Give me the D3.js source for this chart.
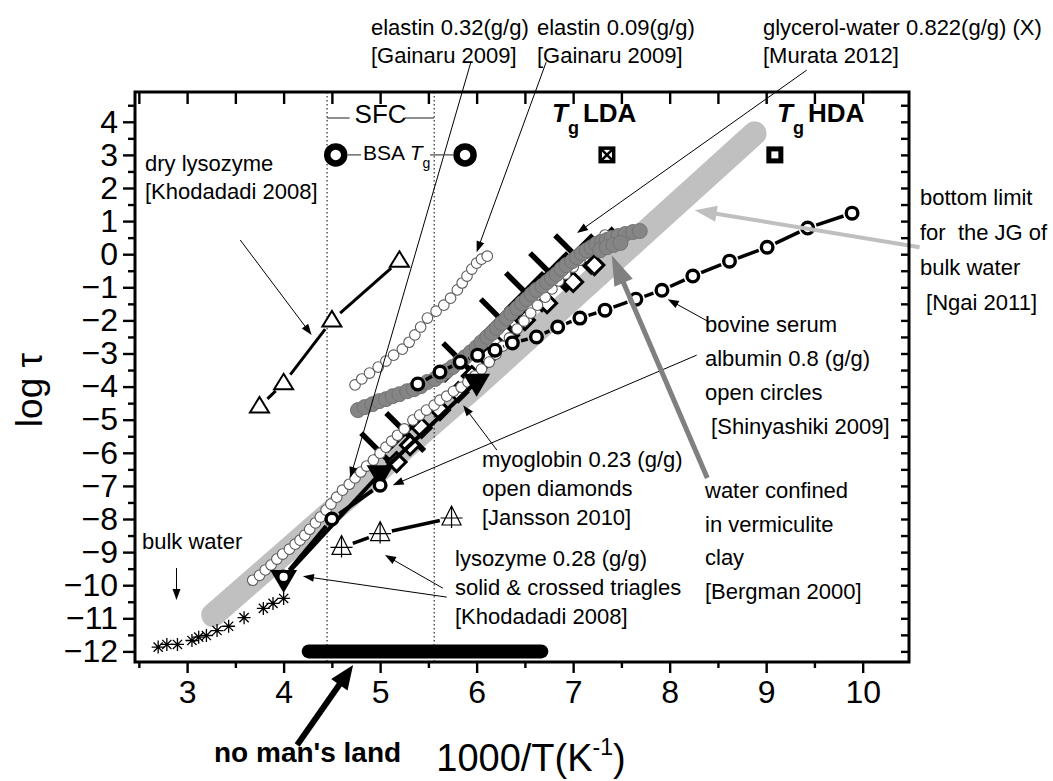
<!DOCTYPE html>
<html>
<head>
<meta charset="utf-8">
<script src="https://cdn.jsdelivr.net/npm/d3@7"></script>
<style>
  body { margin: 0; background: #fff; }
  svg { display: block; }
  text { font-family: "Liberation Sans", Arial, sans-serif; white-space: pre; }
</style>
</head>
<body>
<svg id="chart" width="1053" height="781"></svg>
<script>
// ---------------- data (x = 1000/T in K^-1, y = log tau) ----------------
const xTicks = [3, 4, 5, 6, 7, 8, 9, 10];
const yTicks = [4, 3, 2, 1, 0, -1, -2, -3, -4, -5, -6, -7, -8, -9, -10, -11, -12];

// bottom limit for the JG relaxation of bulk water (Ngai 2011)
const ngaiX = [3.27, 6.0, 8.88];
const ngaiY = [-10.9, -3.95, 3.65];

// bulk water (asterisks)
const bulkWaterX = [2.70, 2.79, 2.90, 3.05, 3.12, 3.20, 3.31, 3.43, 3.59, 3.79, 3.89, 4.00];
const bulkWaterY = [-11.87, -11.79, -11.79, -11.67, -11.57, -11.52, -11.37, -11.24, -10.98, -10.70, -10.55, -10.40];

// dry lysozyme (open triangles)
const dryLysX = [3.75, 4.0, 4.5, 5.2];
const dryLysY = [-4.6, -3.9, -2.0, -0.2];

// lysozyme 0.28 g/g, solid triangles
const lysSolidX = [4.0, 5.0, 6.0];
const lysSolidY = [-9.78, -6.62, -3.85];

// lysozyme 0.28 g/g, crossed triangles
const lysCrossX = [4.60, 5.0, 5.74];
const lysCrossY = [-8.86, -8.44, -7.97];

// bovine serum albumin 0.8 g/g (open circles), fast branch and main branch
const bsaLowX = [4.0, 4.5, 5.0];
const bsaLowY = [-9.75, -8.0, -6.98];
const bsaHighX = [5.39, 5.62, 5.83, 6.01, 6.19, 6.37, 6.62, 6.84, 7.07, 7.33, 7.65, 7.92, 8.24, 8.62, 9.01, 9.43, 9.89];
const bsaHighY = [-3.92, -3.56, -3.26, -3.05, -2.90, -2.68, -2.50, -2.20, -1.93, -1.69, -1.36, -1.09, -0.66, -0.21, 0.21, 0.79, 1.24];

// myoglobin 0.23 g/g (open diamonds)
const myoX = [5.17, 5.31, 5.43, 5.62, 5.81, 5.95, 6.11, 6.31, 6.50, 6.73, 7.00, 7.22, 7.40];
const myoY = [-6.28, -5.77, -5.25, -4.71, -4.17, -3.68, -3.11, -2.47, -1.99, -1.48, -0.84, -0.33, 0.49];

// glycerol-water 0.822 g/g (X)
const glyXmarkX = [5.00, 5.26, 5.85, 6.24, 6.50, 6.75, 7.01];
const glyXmarkY = [-5.98, -5.37, -3.26, -1.93, -1.14, -0.54, 0.00];

// glycerol-water / confined water, dense gray points
const glyX = [4.77, 4.84, 4.92, 4.99, 5.06, 5.13, 5.20, 5.28, 5.35, 5.42, 5.49, 5.57, 5.63, 5.69, 5.75, 5.82, 5.88, 5.94, 6.00, 6.05,
  6.11, 6.16, 6.21, 6.26, 6.31, 6.36, 6.42, 6.47, 6.52, 6.57, 6.62, 6.68, 6.73, 6.78, 6.83, 6.88, 6.93, 6.99, 7.04, 7.09,
  7.14, 7.19, 7.24, 7.30, 7.35, 7.40, 7.47, 7.54, 7.62, 7.69, 7.28, 7.35, 7.42, 7.49];
const glyY = [-4.71, -4.62, -4.53, -4.44, -4.38, -4.29, -4.23, -4.14, -4.08, -3.99, -3.86, -3.77, -3.65, -3.53, -3.41, -3.26, -3.11, -2.96, -2.81, -2.66,
  -2.50, -2.38, -2.23, -2.08, -1.93, -1.78, -1.63, -1.48, -1.36, -1.21, -1.08, -0.96, -0.84, -0.72, -0.60, -0.45, -0.33, -0.21, -0.09, 0.03,
  0.12, 0.21, 0.31, 0.37, 0.43, 0.49, 0.55, 0.61, 0.67, 0.70, 0.12, 0.21, 0.28, 0.34];

// elastin 0.32 g/g
const el32X = [3.68, 3.75, 3.81, 3.87, 3.93, 3.99, 4.06, 4.12, 4.17, 4.22, 4.27, 4.33, 4.38, 4.44, 4.49, 4.55, 4.61, 4.68, 4.74, 4.80,
  4.86, 4.93, 5.00, 5.06, 5.12, 5.18, 5.25, 5.34, 5.41, 5.48, 5.56, 5.62, 5.69, 5.76, 5.84, 5.91, 5.98, 6.05, 6.13, 6.20,
  6.27, 6.34, 6.42, 6.49, 6.56, 6.63, 6.71, 6.78, 6.85, 6.92, 7.00, 7.07, 7.14, 7.21, 7.28, 7.33];
const el32Y = [-9.85, -9.70, -9.54, -9.39, -9.21, -9.06, -8.91, -8.76, -8.64, -8.49, -8.31, -8.12, -7.94, -7.73, -7.55, -7.34, -7.13, -6.95, -6.76, -6.58,
  -6.40, -6.22, -6.01, -5.83, -5.65, -5.47, -5.28, -5.01, -4.86, -4.71, -4.56, -4.41, -4.29, -4.14, -4.02, -3.86, -3.68, -3.47, -3.26, -3.02,
  -2.78, -2.53, -2.26, -2.02, -1.78, -1.54, -1.30, -1.05, -0.81, -0.60, -0.39, -0.18, 0.03, 0.24, 0.43, 0.58];

// elastin 0.09 g/g
const el09X = [4.74, 4.81, 4.89, 4.98, 5.06, 5.14, 5.23, 5.30, 5.36, 5.42, 5.49, 5.58, 5.66, 5.73, 5.80, 5.85, 5.90, 5.95, 6.00, 6.05, 6.11];
const el09Y = [-3.95, -3.77, -3.59, -3.41, -3.23, -3.05, -2.87, -2.66, -2.44, -2.20, -1.93, -1.72, -1.54, -1.33, -1.08, -0.87, -0.66, -0.45, -0.27, -0.15, -0.06];

// glass transition markers
const bsaTgX = [4.54, 5.88], bsaTgY = [3, 3];
const tgLdaX = [7.35], tgLdaY = [3];
const tgHdaX = [9.09], tgHdaY = [3];

// SFC bounds and the "no man's land" interval
const sfcBounds = [4.45, 5.56];
const noMansLand = [4.26, 6.67];
const noMansLandLevel = -12;

// ---------------- scales ----------------
const svg = d3.select("#chart");
const x = d3.scaleLinear().domain([2.46, 10.48]).range([135, 909]);
const y = d3.scaleLinear().domain([-12.32, 4.9]).range([662, 92]);
const zip = (xs, ys) => xs.map((v, i) => [v, ys[i]]);
const px = d => [x(d[0]), y(d[1])];

const plot = svg.append("g");

// segments between consecutive points, trimmed around the markers
function gapSegs(pts, gap) {
  const segs = [];
  for (let i = 0; i < pts.length - 1; i++) {
    const [x1, y1] = pts[i], [x2, y2] = pts[i + 1];
    const dx = x2 - x1, dy = y2 - y1, L = Math.hypot(dx, dy);
    if (L <= 2 * gap) continue;
    const ux = dx / L, uy = dy / L;
    segs.push([x1 + ux * gap, y1 + uy * gap, x2 - ux * gap, y2 - uy * gap]);
  }
  return segs;
}
function drawSegs(g, pts, gap, width) {
  g.selectAll(null).data(gapSegs(pts.map(px), gap)).join("line")
    .attr("x1", d => d[0]).attr("y1", d => d[1]).attr("x2", d => d[2]).attr("y2", d => d[3])
    .attr("stroke", "#000").attr("stroke-width", width);
}
function arrow(g, p0, p1, o = {}) {
  const color = o.color || "#000", width = o.width || 1, head = o.head || 11, half = o.half || 4;
  const [x1, y1] = px(p0), [x2, y2] = px(p1);
  const dx = x2 - x1, dy = y2 - y1, L = Math.hypot(dx, dy), ux = dx / L, uy = dy / L;
  const bx = x2 - ux * head, by = y2 - uy * head;
  g.append("line").attr("x1", x1).attr("y1", y1).attr("x2", bx + ux * 2).attr("y2", by + uy * 2)
    .attr("stroke", color).attr("stroke-width", width);
  g.append("path")
    .attr("d", `M${x2},${y2}L${bx - uy * half},${by + ux * half}L${bx + uy * half},${by - ux * half}Z`)
    .attr("fill", color);
}

// Ngai bottom-limit band
plot.append("path").datum(zip(ngaiX, ngaiY))
  .attr("d", d3.line().x(d => x(d[0])).y(d => y(d[1])))
  .attr("fill", "none").attr("stroke", "#c0c0c0").attr("stroke-width", 24)
  .attr("stroke-linecap", "round").attr("stroke-linejoin", "round");

// SFC dotted bounds
plot.selectAll(".sfc").data(sfcBounds).join("line")
  .attr("x1", d => x(d)).attr("x2", d => x(d))
  .attr("y1", y.range()[1]).attr("y2", y.range()[0])
  .attr("stroke", "#000").attr("stroke-width", 1).attr("stroke-dasharray", "1.5,2.5");

// no man's land bar
plot.append("line")
  .attr("x1", x(noMansLand[0])).attr("x2", x(noMansLand[1]))
  .attr("y1", y(noMansLandLevel)).attr("y2", y(noMansLandLevel))
  .attr("stroke", "#000").attr("stroke-width", 14).attr("stroke-linecap", "round");

// bulk water asterisks
plot.selectAll(".bulk").data(zip(bulkWaterX, bulkWaterY)).join("path")
  .attr("transform", d => `translate(${x(d[0])},${y(d[1])})`)
  .attr("d", "M-6.5,0H6.5M0,-6.5V6.5M-4.6,-4.6L4.6,4.6M-4.6,4.6L4.6,-4.6")
  .attr("stroke", "#000").attr("stroke-width", 1.3).attr("fill", "none");

// elastin 0.09
plot.selectAll(".el09").data(zip(el09X, el09Y)).join("circle")
  .attr("cx", d => x(d[0])).attr("cy", d => y(d[1])).attr("r", 5.3)
  .attr("fill", "#fff").attr("stroke", "#5a5a5a").attr("stroke-width", 1.1);

// glycerol-water X markers
plot.selectAll(".gx").data(zip(glyXmarkX, glyXmarkY)).join("path")
  .attr("transform", d => `translate(${x(d[0])},${y(d[1])})`)
  .attr("d", "M-19,-19L19,19M-19,19L19,-19")
  .attr("stroke", "#000").attr("stroke-width", 5.5);

// myoglobin diamonds
plot.selectAll(".myo").data(zip(myoX, myoY)).join("path")
  .attr("transform", d => `translate(${x(d[0])},${y(d[1])})`)
  .attr("d", "M0,-9.5L9.5,0L0,9.5L-9.5,0Z")
  .attr("fill", "#fff").attr("stroke", "#000").attr("stroke-width", 3);

// elastin 0.32
plot.selectAll(".el32").data(zip(el32X, el32Y)).join("circle")
  .attr("cx", d => x(d[0])).attr("cy", d => y(d[1])).attr("r", 5.3)
  .attr("fill", "#fff").attr("stroke", "#5a5a5a").attr("stroke-width", 1.1);

// glycerol-water dense gray points
plot.selectAll(".gly").data(zip(glyX, glyY)).join("circle")
  .attr("cx", d => x(d[0])).attr("cy", d => y(d[1])).attr("r", 7.5)
  .attr("fill", "#858585").attr("stroke", "#747474").attr("stroke-width", 1);

// lysozyme 0.28 solid triangles
drawSegs(plot, zip(lysSolidX, lysSolidY), 6, 4);
plot.selectAll(".lsol").data(zip(lysSolidX, lysSolidY)).join("path")
  .attr("transform", d => `translate(${x(d[0])},${y(d[1])})`)
  .attr("d", "M-13.5,-8L13.5,-8L0,15Z").attr("fill", "#000");

// BSA open circles
drawSegs(plot, zip(bsaLowX, bsaLowY), 9, 4);
drawSegs(plot, zip(bsaHighX, bsaHighY), 9, 3.5);
plot.selectAll(".bsa").data(zip(bsaLowX, bsaLowY).concat(zip(bsaHighX, bsaHighY))).join("circle")
  .attr("cx", d => x(d[0])).attr("cy", d => y(d[1])).attr("r", 5.8)
  .attr("fill", "#fff").attr("stroke", "#000").attr("stroke-width", 3.4);

// lysozyme 0.28 crossed triangles
drawSegs(plot, zip(lysCrossX, lysCrossY), 12, 3.5);
plot.selectAll(".lcr").data(zip(lysCrossX, lysCrossY)).join("path")
  .attr("transform", d => `translate(${x(d[0])},${y(d[1])})`)
  .attr("d", "M0,-12L9.5,7L-9.5,7Z M0,-12V10 M-11,0H11")
  .attr("fill", "#fff").attr("stroke", "#000").attr("stroke-width", 1.2);

// dry lysozyme open triangles
drawSegs(plot, zip(dryLysX, dryLysY), 11, 3);
plot.selectAll(".dry").data(zip(dryLysX, dryLysY)).join("path")
  .attr("transform", d => `translate(${x(d[0])},${y(d[1])})`)
  .attr("d", "M0,-9.5L9.5,6L-9.5,6Z")
  .attr("fill", "#fff").attr("stroke", "#000").attr("stroke-width", 2);

// glass transition markers
plot.selectAll(".bsatg").data(zip(bsaTgX, bsaTgY)).join("circle")
  .attr("cx", d => x(d[0])).attr("cy", d => y(d[1])).attr("r", 8.5)
  .attr("fill", "#fff").attr("stroke", "#000").attr("stroke-width", 6.5);
zip(tgLdaX, tgLdaY).forEach(d => {
  const g = plot.append("g").attr("transform", `translate(${x(d[0])},${y(d[1])})`);
  g.append("rect").attr("x", -8.5).attr("y", -8.5).attr("width", 17).attr("height", 17).attr("fill", "#000");
  g.append("rect").attr("x", -5).attr("y", -5).attr("width", 10).attr("height", 10).attr("fill", "#fff");
  g.append("path").attr("d", "M-5,-5L5,5M-5,5L5,-5").attr("stroke", "#000").attr("stroke-width", 2.6);
});
zip(tgHdaX, tgHdaY).forEach(d => {
  const g = plot.append("g").attr("transform", `translate(${x(d[0])},${y(d[1])})`);
  g.append("rect").attr("x", -8.5).attr("y", -8.5).attr("width", 17).attr("height", 17).attr("fill", "#000");
  g.append("rect").attr("x", -3.5).attr("y", -3.5).attr("width", 7).attr("height", 7).attr("fill", "#fff");
});

// ---------------- annotations ----------------
const ann = svg.append("g");
function label(xp, yp, s, size = 22, extra = {}) {
  const t = ann.append("text").attr("x", xp).attr("y", yp).attr("font-size", size).attr("fill", "#000").text(s);
  Object.entries(extra).forEach(([k, v]) => t.attr(k, v));
  return t;
}

// thin pointer arrows
const pointers = [
  [[3.55, 0.43], [4.29, -2.44]],   // dry lysozyme
  [[5.94, 5.80], [4.69, -6.76]],   // elastin 0.32
  [[6.72, 5.80], [6.00, 0.06]],    // elastin 0.09
  [[9.42, 5.56], [7.04, 0.64]],    // glycerol-water
  [[8.41, -2.05], [7.98, -1.36]],  // BSA
  [[8.28, -3.05], [5.13, -6.98]],  // BSA fast branch
  [[6.21, -5.92], [5.86, -4.56]],  // myoglobin
  [[5.65, -10.09], [5.05, -9.09]], // crossed triangles
  [[5.69, -10.36], [4.20, -9.73]], // solid triangles
  [[2.89, -9.48], [2.89, -10.45]]  // bulk water
];
pointers.forEach(p => arrow(ann, p[0], p[1]));

arrow(ann, [10.59, 0.21], [8.26, 1.33], { color: "#bfbfbf", width: 4, head: 22, half: 8 });
arrow(ann, [8.39, -6.76], [7.40, -0.03], { color: "#808080", width: 5, head: 30, half: 10 });
arrow(ann, [4.14, -14.83], [4.72, -12.41], { color: "#000", width: 6, head: 24, half: 10 });

// SFC label with its bracket lines
const sfcMid = (x(sfcBounds[0]) + x(sfcBounds[1])) / 2;
label(sfcMid, 123, "SFC", 26, { "text-anchor": "middle" });
ann.append("line").attr("x1", x(sfcBounds[0])).attr("x2", sfcMid - 31).attr("y1", 118).attr("y2", 118)
  .attr("stroke", "#444").attr("stroke-width", 1.2);
ann.append("line").attr("x1", sfcMid + 24).attr("x2", x(sfcBounds[1])).attr("y1", 118).attr("y2", 118)
  .attr("stroke", "#444").attr("stroke-width", 1.2);

// BSA Tg label between its two markers
const bsaTgRow = y(bsaTgY[0]);
ann.append("line").attr("x1", x(bsaTgX[0]) + 12).attr("x2", 361).attr("y1", bsaTgRow).attr("y2", bsaTgRow)
  .attr("stroke", "#444").attr("stroke-width", 1.2);
ann.append("line").attr("x1", 430).attr("x2", x(bsaTgX[1]) - 12).attr("y1", bsaTgRow).attr("y2", bsaTgRow)
  .attr("stroke", "#444").attr("stroke-width", 1.2);
const bsaT = label(363, 160, "BSA ", 21);
bsaT.append("tspan").attr("font-style", "italic").text("T");
bsaT.append("tspan").attr("font-size", 14).attr("dy", 8).text("g");

// Tg LDA / HDA
[["LDA", 552], ["HDA", 777]].forEach(([name, xp]) => {
  const t = ann.append("text").attr("x", xp).attr("y", 122).attr("font-size", 26).attr("font-weight", "bold");
  t.append("tspan").attr("font-style", "italic").text("T");
  t.append("tspan").attr("font-size", 18).attr("dy", 12).text("g");
  t.append("tspan").attr("dy", -12).attr("dx", 4).text(name);
});

label(371, 35, "elastin 0.32(g/g)");
label(371, 63, "[Gainaru 2009]");
label(537, 35, "elastin 0.09(g/g)");
label(537, 63, "[Gainaru 2009]");
label(763, 35, "glycerol-water 0.822(g/g) (X)");
label(763, 63, "[Murata 2012]");

label(145, 171, "dry lysozyme");
label(145, 199, "[Khodadadi 2008]");

label(920, 205, "bottom limit");
label(920, 240, "for  the JG of");
label(920, 275, "bulk water");
label(920, 310, " [Ngai 2011]");

label(705, 332, "bovine serum");
label(705, 366, "albumin 0.8 (g/g)");
label(705, 400, "open circles");
label(705, 434, " [Shinyashiki 2009]");

label(482, 467, "myoglobin 0.23 (g/g)");
label(482, 496, "open diamonds");
label(482, 525, "[Jansson 2010]");

label(705, 498, "water confined");
label(705, 532, "in vermiculite");
label(705, 565, "clay");
label(705, 599, "[Bergman 2000]");

label(455, 566, "lysozyme 0.28 (g/g)");
label(455, 595, "solid & crossed triagles");
label(455, 624, "[Khodadadi 2008]");

label(142, 549, "bulk water");

label(214, 762, "no man's land", 28, { "font-weight": "bold" });

// ---------------- axes ----------------
const axes = svg.append("g");
const fmt = d3.format("d");
const halvesX = d3.range(2.5, 10.01, 0.5);
const halvesY = d3.range(-12, 4.51, 0.5);
const minorX = halvesX.filter(v => v % 1 !== 0);
const minorY = halvesY.filter(v => v % 1 !== 0);

function styleAxis(g) {
  g.select(".domain").remove();
  g.selectAll(".tick line").attr("stroke", "#000").attr("stroke-width", 2.4);
  g.selectAll(".tick text").attr("font-family", '"Liberation Sans", Arial, sans-serif').attr("font-size", 32).attr("fill", "#000");
}
axes.append("g").attr("transform", `translate(0,${y.range()[0]})`)
  .call(d3.axisBottom(x).tickValues(xTicks).tickSize(11).tickPadding(7).tickFormat(fmt)).call(styleAxis);
axes.append("g").attr("transform", `translate(0,${y.range()[0]})`)
  .call(d3.axisBottom(x).tickValues(minorX).tickSize(6).tickFormat("")).call(styleAxis);
axes.append("g").attr("transform", `translate(0,${y.range()[1]})`)
  .call(d3.axisTop(x).tickValues(halvesX).tickSize(-12).tickFormat("")).call(styleAxis);
axes.append("g").attr("transform", `translate(${x.range()[0]},0)`)
  .call(d3.axisLeft(y).tickValues(yTicks).tickSize(12).tickPadding(5).tickFormat(fmt)).call(styleAxis);
axes.append("g").attr("transform", `translate(${x.range()[0]},0)`)
  .call(d3.axisLeft(y).tickValues(minorY).tickSize(7).tickFormat("")).call(styleAxis);
axes.append("g").attr("transform", `translate(${x.range()[1]},0)`)
  .call(d3.axisRight(y).tickValues(halvesY).tickSize(-8).tickFormat("")).call(styleAxis);

axes.append("rect")
  .attr("x", x.range()[0]).attr("y", y.range()[1])
  .attr("width", x.range()[1] - x.range()[0]).attr("height", y.range()[0] - y.range()[1])
  .attr("fill", "none").attr("stroke", "#000").attr("stroke-width", 3);

// axis titles
axes.append("text").attr("transform", "translate(42,390) rotate(-90)")
  .attr("text-anchor", "middle").attr("font-size", 37).text("log τ");
const xt = axes.append("text").attr("x", 531).attr("y", 771).attr("text-anchor", "middle").attr("font-size", 38);
xt.append("tspan").text("1000/T(K");
xt.append("tspan").attr("font-size", 23).attr("dy", -16).text("-1");
xt.append("tspan").attr("dy", 16).text(")");
</script>
</body>
</html>
